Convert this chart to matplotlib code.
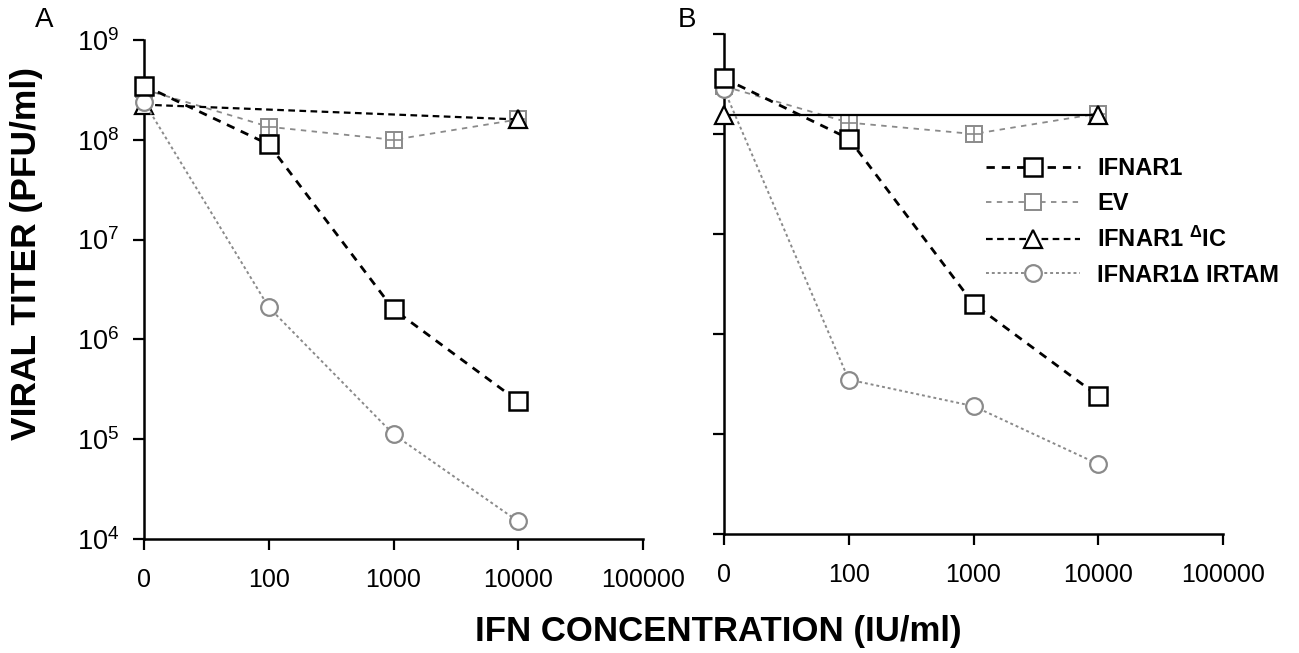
import numpy as np
import matplotlib
matplotlib.use("Agg")
import matplotlib.pyplot as plt

plt.rcParams['font.family'] = ['Liberation Sans', 'DejaVu Sans']
plt.rcParams['mathtext.default'] = 'regular'

# data (IFN concentration in IU/ml, titer in PFU/ml)
tick_labels = ['0', '100', '1000', '10000', '100000']
conc = [0, 100, 1000, 10000]
conc_ic = [0, 10000]

# panel A
a_ifnar1 = [3.5e8, 9.0e7, 2.0e6, 2.4e5]
a_ev = [3.2e8, 1.35e8, 1.0e8, 1.6e8]
a_ic = [2.25e8, 1.6e8]
a_irtam = [2.4e8, 2.1e6, 1.12e5, 1.5e4]

# panel B
b_ifnar1 = [3.6e8, 9.0e7, 2.0e6, 2.4e5]
b_ev = [3.0e8, 1.3e8, 1.0e8, 1.6e8]
b_ic = [1.55e8, 1.55e8]
b_irtam = [2.8e8, 3.5e5, 1.9e5, 5.0e4]


def xpos(values):
    # 0 sits at the first slot, then one slot per decade from 100
    return [0 if v == 0 else np.log10(v) - 1 for v in values]


gray = '#8a8a8a'
fig = plt.figure(figsize=(12.99, 6.53), dpi=100)
axA = fig.add_axes([144/1299, 1-539/653, 499/1299, 499/653])
axB = fig.add_axes([724/1299, 1-534/653, 499/1299, 500/653])


def draw(ax, ifnar1, ev, ic, irtam, ic_style):
    ax.plot(xpos(conc), ev, color=gray, lw=1.3, ls=(0, (3, 3)),
            marker='s', ms=12, mfc='white', mec=gray, mew=1.4,
            label='EV', zorder=3)
    ax.plot(xpos(conc), ev, ls='none', marker='+', ms=12, mec=gray,
            mew=1.2, zorder=3)
    ax.plot(xpos(conc_ic), ic, color='black', lw=1.6, ls=ic_style,
            marker='^', ms=13, mfc='white', mec='black', mew=1.6,
            label=r'IFNAR1 $^{Δ}$IC', zorder=4)
    ax.plot(xpos(conc), irtam, color=gray, lw=1.4, ls=(0, (1.5, 1.5)),
            marker='o', ms=12, mfc='white', mec=gray, mew=1.6,
            label='IFNAR1Δ IRTAM', zorder=4)
    ax.plot(xpos(conc), ifnar1, color='black', lw=2.0, ls=(0, (3, 2.5)),
            marker='s', ms=13, mfc='white', mec='black', mew=1.8,
            label='IFNAR1', zorder=5)

    ax.set_yscale('log')
    ax.set_ylim(1e4, 1e9)
    ax.set_xlim(0, 4)
    ax.set_xticks(range(len(tick_labels)))
    ax.set_xticklabels(tick_labels)
    ax.set_yticks([1e4, 1e5, 1e6, 1e7, 1e8, 1e9])
    ax.minorticks_off()
    for s in ['top', 'right']:
        ax.spines[s].set_visible(False)
    for s in ['left', 'bottom']:
        ax.spines[s].set_linewidth(1.8)
    ax.tick_params(direction='out', length=8, width=1.6, labelsize=18)
    ax.tick_params(axis='x', pad=13)
    for c in ax.get_children():
        if hasattr(c, 'set_clip_on'):
            c.set_clip_on(False)


draw(axA, a_ifnar1, a_ev, a_ic, a_irtam, (0, (3, 2)))
axA.set_yticklabels([r'10$^{%d}$' % k for k in range(4, 10)])
axA.tick_params(axis='y', pad=10, labelsize=19.5)

draw(axB, b_ifnar1, b_ev, b_ic, b_irtam, '-')
axB.set_yticklabels([])

fig.text(35/1299, 1-20/653, 'A', fontsize=20, va='center', ha='left')
fig.text(678/1299, 1-20/653, 'B', fontsize=20, va='center', ha='left')

fig.text(27/1299, 1-253/653, 'VIRAL TITER (PFU/ml)', rotation=90,
         fontsize=25.5, fontweight='bold', ha='center', va='center')
fig.text(718/1299, 1-632/653, 'IFN CONCENTRATION (IU/ml)',
         fontsize=25, fontweight='bold', ha='center', va='center')

# legend uses panel A's lines (dashed IC line), IFNAR1 listed first
h, l = axA.get_legend_handles_labels()
order = [l.index('IFNAR1'), l.index('EV'),
         l.index(r'IFNAR1 $^{Δ}$IC'), l.index('IFNAR1Δ IRTAM')]
leg = axB.legend([h[i] for i in order], [l[i] for i in order],
                 loc='upper left', bbox_to_anchor=(986/1299, 1-157/653),
                 bbox_transform=fig.transFigure, frameon=False,
                 handlelength=4.0, handletextpad=0.7, labelspacing=0.5,
                 borderpad=0, borderaxespad=0,
                 prop={'weight': 'bold', 'size': 17})

plt.savefig('out.png', dpi=100)
